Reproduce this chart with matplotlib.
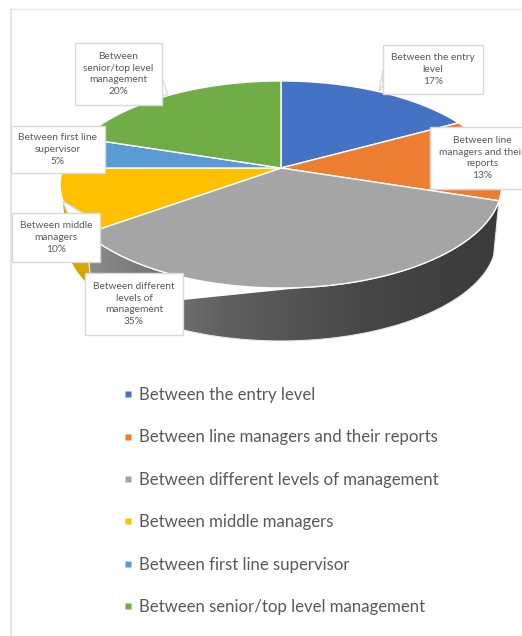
import numpy as np
import matplotlib
matplotlib.use("Agg")
import matplotlib.pyplot as plt
from matplotlib.lines import Line2D
from matplotlib.patches import Polygon, Rectangle
from matplotlib.colors import LinearSegmentedColormap

categories = [
    "Between the entry level",
    "Between line managers and their reports",
    "Between different levels of management",
    "Between middle managers",
    "Between first line supervisor",
    "Between senior/top level management",
]
values = [17, 13, 35, 10, 5, 20]
colors = ["#4472C4", "#ED7D31", "#A5A5A5", "#FFC000", "#5B9BD5", "#70AD47"]

label_lines = [
    "Between the entry\nlevel\n17%",
    "Between line\nmanagers and their\nreports\n13%",
    "Between different\nlevels of\nmanagement\n35%",
    "Between middle\nmanagers\n10%",
    "Between first line\nsupervisor\n5%",
    "Between\nsenior/top level\nmanagement\n20%",
]
# x0, y0, x1, y1 of the callout boxes, in pixels
label_boxes = [
    (383, 45, 483, 94),
    (430, 127, 534, 189),
    (85, 273, 183, 335),
    (12, 213, 100, 262),
    (11, 126, 105, 173),
    (75, 43, 162, 105),
]
# little callout tips
label_tips = {
    0: [(383, 70), (379, 91), (383, 86)],
    3: [(63, 201), (84, 214), (68, 214)],
    5: [(162, 78), (168, 95), (162, 95)],
}

W, H = 522, 636
CX, CY = 281, 168
A, B, C = 218, 100.9, 0.159  # perspective of the tilted pie
DEPTH = 56
TEXT = "#595959"
BOX = "#D9D9D9"
FONT = "Lato"


def project(deg, scale=1.0, shift=0.0):
    """Angle clockwise from 12 o'clock to pixel position on the rim."""
    t = np.radians(deg)
    u, v = np.sin(t), np.cos(t)
    den = 1 + C * v
    return CX + scale * A * u / den, CY - scale * B * v / den + shift


def wedge(start, end):
    t = np.linspace(start, end, 120)
    x, y = project(t)
    return np.r_[CX, x], np.r_[CY, y]


def wall(start, end):
    t = np.linspace(start, end, 120)
    x0, y0 = project(t)
    x1, y1 = project(t[::-1], 0.975, DEPTH)
    return np.column_stack([np.r_[x0, x1], np.r_[y0, y1]])


fig = plt.figure(figsize=(W / 100, H / 100), dpi=100)
ax = fig.add_axes([0, 0, 1, 1])

edges = np.r_[0, np.cumsum(values)] * 3.6

# side wall of the yellow slice, then the grey one with its gradient
ax.add_patch(Polygon(wall(edges[3], edges[3] + 20), fc="#D9A300", ec="white", lw=0.8, zorder=1))
grad = LinearSegmentedColormap.from_list("wall", ["#8C8C8C", "#606060", "#474747", "#3A3A3A"])
img = ax.imshow(np.linspace(0, 1, 256)[None, :], cmap=grad, aspect="auto",
                extent=(85, 502, 350, 195), zorder=2)
side = Polygon(wall(edges[2], edges[3]), fc="none", ec="none", transform=ax.transData)
ax.add_patch(side)
img.set_clip_path(side)
ax.add_patch(Polygon(wall(edges[2], edges[3]), fc="none", ec="#E8E8E8", lw=0.8, zorder=2.5))

# white notch next to the lower label
ax.add_patch(Polygon([(183, 275), (183, 300), (350, 283), (350, 275)], fc="white", ec="none", zorder=3))

# top surface
for i in range(len(values)):
    x, y = wedge(edges[i], edges[i + 1])
    ax.fill(x, y, fc=colors[i], ec="white", lw=1.0, zorder=4)

# callouts
for i, text in enumerate(label_lines):
    x0, y0, x1, y1 = label_boxes[i]
    if i in label_tips:
        ax.add_patch(Polygon(label_tips[i], fc="white", ec=BOX, lw=1, zorder=5))
    ax.add_patch(Rectangle((x0, y0), x1 - x0, y1 - y0, fc="white", ec=BOX, lw=1, zorder=6))
    ax.text((x0 + x1) / 2, (y0 + y1) / 2, text, ha="center", va="center", color=TEXT,
            fontsize=7.3, family=FONT, linespacing=1.36, zorder=7, clip_on=True)

# frame of the pasted picture
ax.plot([11, 11], [H, 9], color="#E2E2E2", lw=1.3, zorder=0)
ax.plot([11, W], [9, 9], color="#E8E8E8", lw=1.0, zorder=0)

handles = [Line2D([], [], ls="none", marker="s", ms=4.2, mfc=c, mec="none") for c in colors]
ax.legend(handles, categories, loc="upper left", bbox_to_anchor=(122, 387), bbox_transform=ax.transData,
          frameon=False, prop={"family": FONT, "size": 12.1}, labelcolor=TEXT, labelspacing=1.57,
          handlelength=0.7, handletextpad=0.3, borderpad=0, borderaxespad=0)

ax.set_xlim(0, W)
ax.set_ylim(H, 0)
ax.axis("off")

fig.savefig("out.png", dpi=100)
